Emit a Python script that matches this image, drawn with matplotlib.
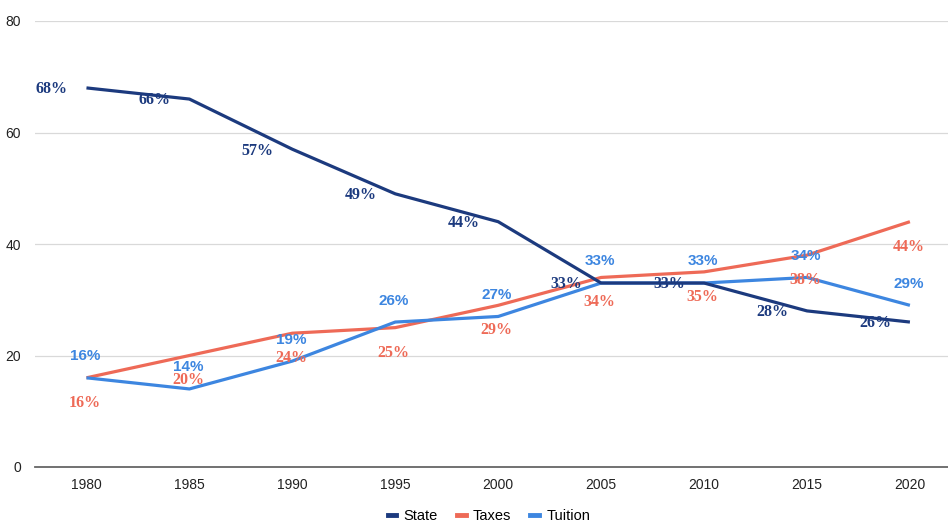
import matplotlib
matplotlib.use("Agg")
import matplotlib.pyplot as plt
from matplotlib.lines import Line2D

years = ["1980", "1985", "1990", "1995", "2000", "2005", "2010", "2015", "2020"]
state = [68, 66, 57, 49, 44, 33, 33, 28, 26]
taxes = [16, 20, 24, 25, 29, 34, 35, 38, 44]
tuition = [16, 14, 19, 26, 27, 33, 33, 34, 29]

c_state = "#1c3a7e"
c_taxes = "#ee6a57"
c_tuition = "#3d86e0"

fig = plt.figure(figsize=(9.48, 5.23), dpi=100)
ax = fig.add_axes([35 / 948, 1 - 467 / 523, 1 - 35 / 948, (467 - 21) / 523])

x = list(range(len(years)))
ax.plot(x, taxes, color=c_taxes, lw=2.3, zorder=3, solid_capstyle="butt")
ax.plot(x, tuition, color=c_tuition, lw=2.3, zorder=4, solid_capstyle="butt")
ax.plot(x, state, color=c_state, lw=2.3, zorder=5, solid_capstyle="butt")

serif = ["Liberation Serif", "DejaVu Serif"]
sans = ["Liberation Sans", "DejaVu Sans"]

for i, v in enumerate(state):
    ax.annotate(f"{v}%", (i, v), xytext=(-25, -1), textcoords="offset points",
                ha="center", va="center", fontsize=11.5, fontweight="bold",
                family=serif, color=c_state, zorder=6)
for i, v in enumerate(taxes):
    ax.annotate(f"{v}%", (i, v), xytext=(-1, -18), textcoords="offset points",
                ha="center", va="center", fontsize=11.5, fontweight="bold",
                family=serif, color=c_taxes, zorder=6)
for i, v in enumerate(tuition):
    ax.annotate(f"{v}%", (i, v), xytext=(-1, 15.5), textcoords="offset points",
                ha="center", va="center", fontsize=11, fontweight="bold",
                family=sans, color=c_tuition, zorder=6)

ax.set_xlim(-0.5, 8.37)
ax.set_ylim(0, 80)
ax.set_yticks([0, 20, 40, 60, 80])
ax.set_xticks(x)
ax.set_xticklabels(years)
for lbl in ax.get_xticklabels() + ax.get_yticklabels():
    lbl.set_family(sans)
    lbl.set_fontsize(10)
    lbl.set_color("#222222")
ax.tick_params(length=0, pad=8)
ax.tick_params(axis="y", pad=10)
ax.grid(axis="y", color="#d9d9d9", lw=0.9)
ax.set_axisbelow(True)
for s in ["top", "right", "left"]:
    ax.spines[s].set_visible(False)
ax.spines["bottom"].set_color("#666666")
ax.spines["bottom"].set_linewidth(1.3)

handles = [Line2D([], [], color=c, lw=3.5) for c in (c_state, c_taxes, c_tuition)]
fig.legend(handles, ["State", "Taxes", "Tuition"], loc="center",
           bbox_to_anchor=(489 / 948, 1 - 516 / 523), ncol=3, frameon=False,
           handlelength=0.6, handletextpad=0.5, columnspacing=1.3,
           prop={"family": sans, "size": 10.5})

fig.savefig("out.png", dpi=100)
